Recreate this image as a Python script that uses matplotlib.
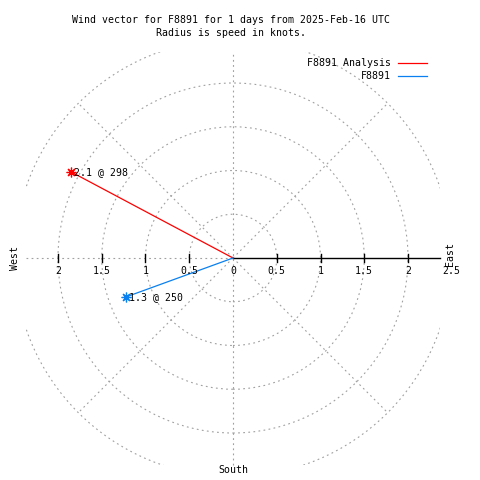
import numpy as np
import matplotlib
matplotlib.use("Agg")
import matplotlib.pyplot as plt
from matplotlib.patches import Circle, Rectangle

# ---- data ----
series_names = ["F8891 Analysis", "F8891"]
speeds = [2.1, 1.3]          # knots
directions = [298, 250]      # degrees (0 = North, clockwise)
series_colors = ["#ff0000", "#0a80f0"]
ring_radii = [0.5, 1.0, 1.5, 2.0, 2.5]
spoke_angles = [45, 135, 225, 315]
axis_ticks = [0.5, 1.0, 1.5, 2.0]
left_labels = ["2", "1.5", "1", "0.5"]
left_label_vals = [2.0, 1.5, 1.0, 0.5]
right_labels = ["0", "0.5", "1", "1.5", "2", "2.5"]
right_label_vals = [0.0, 0.5, 1.0, 1.5, 2.0, 2.5]
R = 2.36  # plot half-range in knots

W = H = 480
fig = plt.figure(figsize=(4.8, 4.8), dpi=100)
ax = fig.add_axes([0, 0, 1, 1])
scale = 87.5
cx, cy = 233, 258
ax.set_xlim(-cx / scale, (W - cx) / scale)
ax.set_ylim((cy - H) / scale, cy / scale)
ax.set_aspect("auto")
ax.axis("off")

FONT = "DejaVu Sans Mono"
FS = 7.1
grid_kw = dict(color="#a0a0a0", lw=0.8, linestyle=(0, (1.6, 3)))

clip = Rectangle((-R, -R), 2 * R, 2 * R, transform=ax.transData, fill=False, visible=False)
ax.add_patch(clip)

for r in ring_radii:
    c = Circle((0, 0), r, fill=False, **grid_kw)
    ax.add_patch(c)
    c.set_clip_path(clip)

for a in spoke_angles:
    t = np.deg2rad(a)
    ax.plot([0, 2.5 * np.sin(t)], [0, 2.5 * np.cos(t)], **grid_kw)

# axes lines
ax.plot([0, 0], [-R, R], **grid_kw)
ax.plot([-R, 0], [0, 0], **grid_kw)
ax.plot([0, R], [0, 0], color="black", lw=1.0)
tick_h = 4 / scale
for v in axis_ticks:
    for s in (-1, 1):
        ax.plot([s * v, s * v], [-tick_h, tick_h], color="black", lw=1.0)

# tick labels
ly = -13 / scale
for lab, v in zip(left_labels, left_label_vals):
    ax.text(-v, ly, lab, ha="center", va="center", fontsize=FS, family=FONT)
for lab, v in zip(right_labels, right_label_vals):
    ax.text(v, ly, lab, ha="center", va="center", fontsize=FS, family=FONT)

# vectors
for name, sp, d, col in zip(series_names, speeds, directions, series_colors):
    t = np.deg2rad(d)
    x, y = sp * np.sin(t), sp * np.cos(t)
    ax.plot([0, x], [0, y], color=col, lw=0.9)
    ax.plot([x], [y], marker=(8, 2, 0), color=col, ms=7, mew=0.9)
    ax.text(x + 3 / scale, y, f"{sp} @ {d}", ha="left", va="center", fontsize=FS, family=FONT)

# titles
fig.text(231 / W, 1 - 20 / H, "Wind vector for F8891 for 1 days from 2025-Feb-16 UTC",
         ha="center", va="center", fontsize=FS, family=FONT)
fig.text(231 / W, 1 - 33 / H, "Radius is speed in knots.",
         ha="center", va="center", fontsize=FS, family=FONT)

# compass labels
fig.text(15 / W, 1 - 258 / H, "West", rotation=90, ha="center", va="center", fontsize=FS, family=FONT)
fig.text(450 / W, 1 - 254 / H, "East", rotation=90, ha="center", va="center", fontsize=FS, family=FONT)
fig.text(233 / W, 1 - 470 / H, "South", ha="center", va="center", fontsize=FS, family=FONT)

# legend
for i, (name, col) in enumerate(zip(series_names, series_colors)):
    yy = 1 - (63 + 13 * i) / H
    fig.text(391 / W, yy, name, ha="right", va="center", fontsize=FS, family=FONT)
    fig.add_artist(plt.Line2D([398 / W, 427 / W], [yy, yy], color=col, lw=0.9,
                              transform=fig.transFigure))

fig.savefig("out.png", dpi=100)
